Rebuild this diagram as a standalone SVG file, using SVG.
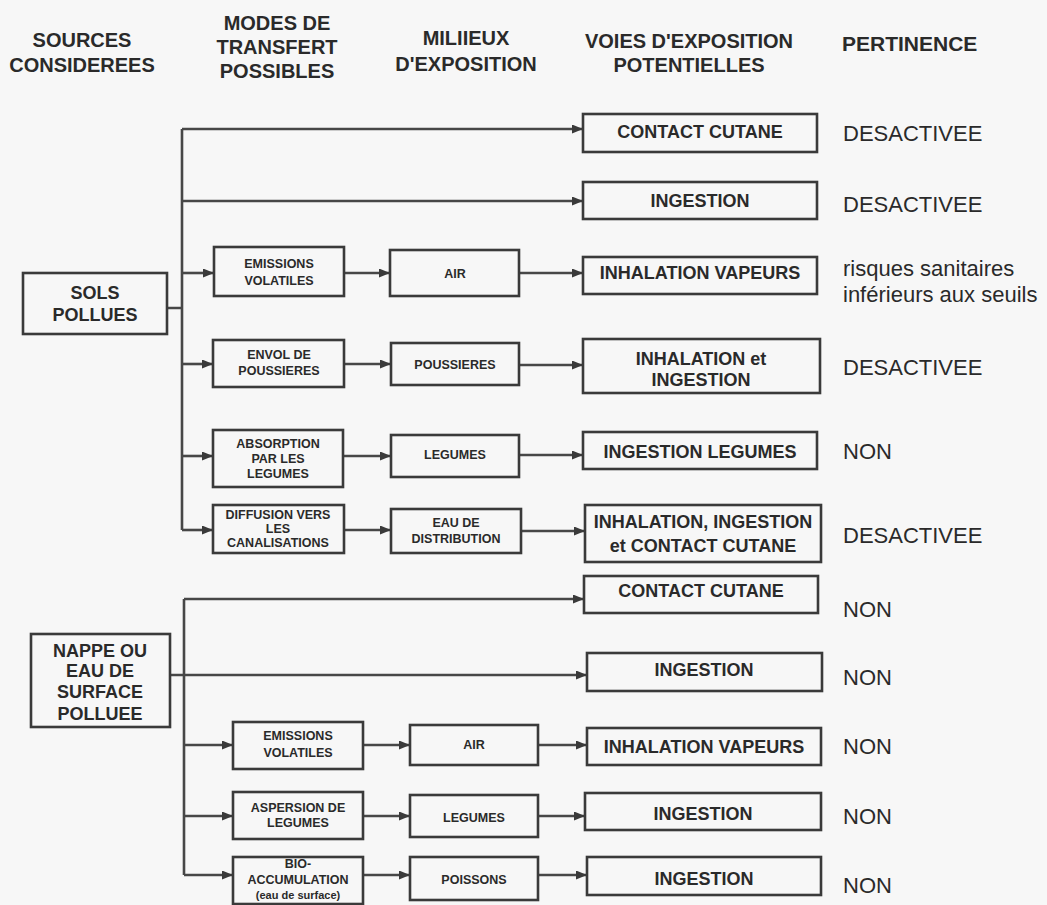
<svg xmlns="http://www.w3.org/2000/svg" width="1047" height="905" viewBox="0 0 1047 905">
<defs>
<style>
.bg{fill:#f7f7f7}
.box{fill:none;stroke:#3a3a3a;stroke-width:2.6}
.ln{fill:none;stroke:#474747;stroke-width:2.6}
.ar{marker-end:url(#ah)}
text{font-family:"Liberation Sans",Arial,sans-serif;fill:#2a2a2a}
.h{font-size:20px;font-weight:bold;text-anchor:middle}
.p{font-size:22px}
.v{font-size:18px;font-weight:bold;text-anchor:middle}
.s{font-size:12.5px;font-weight:bold;text-anchor:middle}
.t{font-size:11px;font-weight:bold;text-anchor:middle}
</style>
<marker id="ah" markerUnits="userSpaceOnUse" markerWidth="11" markerHeight="9" viewBox="0 0 11 9" refX="11" refY="4.5" orient="auto">
<path d="M0,0 L11,4.5 L0,9 z" fill="#3a3a3a"/>
</marker>
</defs>
<rect class="bg" x="0" y="0" width="1047" height="905"/>

<g id="headers">
<text class="h" x="82" y="47">SOURCES</text>
<text class="h" x="82" y="72">CONSIDEREES</text>
<text class="h" x="277" y="30">MODES DE</text>
<text class="h" x="277" y="54">TRANSFERT</text>
<text class="h" x="277" y="78">POSSIBLES</text>
<text class="h" x="466" y="45">MILIIEUX</text>
<text class="h" x="466" y="71">D'EXPOSITION</text>
<text class="h" x="689" y="48">VOIES D'EXPOSITION</text>
<text class="h" x="689" y="72">POTENTIELLES</text>
<text class="h" x="842" y="51" style="text-anchor:start;font-size:21px">PERTINENCE</text>
</g>

<g id="connectors">
<path class="ln" d="M182,129 V530 M167,308 H182"/>
<path class="ln ar" d="M182,129 H583"/>
<path class="ln ar" d="M182,201 H583"/>
<path class="ln ar" d="M182,273 H214"/>
<path class="ln ar" d="M182,364 H213"/>
<path class="ln ar" d="M182,456 H213"/>
<path class="ln ar" d="M182,530 H213"/>
<path class="ln ar" d="M344,273 H390"/>
<path class="ln ar" d="M344,364 H391"/>
<path class="ln ar" d="M343,456 H391"/>
<path class="ln ar" d="M344,530 H391"/>
<path class="ln ar" d="M519,273 H583"/>
<path class="ln ar" d="M519,365 H583"/>
<path class="ln ar" d="M519,455 H583"/>
<path class="ln ar" d="M521,531 H585"/>
<path class="ln" d="M184,599 V875"/>
<path class="ln ar" d="M184,599 H584"/>
<path class="ln ar" d="M170,675 H587"/>
<path class="ln ar" d="M184,745 H233"/>
<path class="ln ar" d="M184,816 H233"/>
<path class="ln ar" d="M184,875 H233"/>
<path class="ln ar" d="M363,745 H410"/>
<path class="ln ar" d="M363,816 H410"/>
<path class="ln ar" d="M363,875 H410"/>
<path class="ln ar" d="M538,745 H587"/>
<path class="ln ar" d="M538,816 H585"/>
<path class="ln ar" d="M538,875 H587"/>
</g>

<g id="sols">
<rect class="box" x="23" y="273" width="144" height="61"/>
<text class="v" x="95" y="299">SOLS</text>
<text class="v" x="95" y="321">POLLUES</text>
</g>
<g id="nappe">
<rect class="box" x="31" y="634" width="139" height="93"/>
<text class="v" x="100" y="657">NAPPE OU</text>
<text class="v" x="100" y="677">EAU DE</text>
<text class="v" x="100" y="698">SURFACE</text>
<text class="v" x="100" y="720">POLLUEE</text>
</g>

<g id="m-emissions-1">
<rect class="box" x="214" y="247" width="130" height="49"/>
<text class="s" x="279" y="268">EMISSIONS</text>
<text class="s" x="279" y="285">VOLATILES</text>
</g>
<g id="m-envol">
<rect class="box" x="213" y="340" width="131" height="47"/>
<text class="s" x="279" y="359">ENVOL DE</text>
<text class="s" x="279" y="375">POUSSIERES</text>
</g>
<g id="m-absorption">
<rect class="box" x="213" y="430" width="130" height="57"/>
<text class="s" x="278" y="448">ABSORPTION</text>
<text class="s" x="278" y="463">PAR LES</text>
<text class="s" x="278" y="478">LEGUMES</text>
</g>
<g id="m-diffusion">
<rect class="box" x="213" y="505" width="131" height="48"/>
<text class="s" x="278" y="519">DIFFUSION VERS</text>
<text class="s" x="278" y="533">LES</text>
<text class="s" x="278" y="547">CANALISATIONS</text>
</g>

<g id="e-air-1">
<rect class="box" x="390" y="250" width="129" height="46"/>
<text class="s" x="455" y="278">AIR</text>
</g>
<g id="e-poussieres">
<rect class="box" x="391" y="343" width="128" height="42"/>
<text class="s" x="455" y="369">POUSSIERES</text>
</g>
<g id="e-legumes-1">
<rect class="box" x="391" y="435" width="128" height="42"/>
<text class="s" x="455" y="459">LEGUMES</text>
</g>
<g id="e-eau">
<rect class="box" x="391" y="509" width="130" height="44"/>
<text class="s" x="456" y="527">EAU DE</text>
<text class="s" x="456" y="543">DISTRIBUTION</text>
</g>

<g id="v-contact-1">
<rect class="box" x="583" y="114" width="234" height="38"/>
<text class="v" x="700" y="138">CONTACT CUTANE</text>
</g>
<g id="v-ingestion-1">
<rect class="box" x="583" y="182" width="234" height="37"/>
<text class="v" x="700" y="207">INGESTION</text>
</g>
<g id="v-inhalation-1">
<rect class="box" x="583" y="257" width="234" height="37"/>
<text class="v" x="700" y="279">INHALATION VAPEURS</text>
</g>
<g id="v-inh-ing">
<rect class="box" x="583" y="339" width="237" height="54"/>
<text class="v" x="701" y="365">INHALATION et</text>
<text class="v" x="701" y="386">INGESTION</text>
</g>
<g id="v-ing-legumes">
<rect class="box" x="583" y="432" width="234" height="37"/>
<text class="v" x="700" y="458">INGESTION LEGUMES</text>
</g>
<g id="v-inh-ing-cont">
<rect class="box" x="585" y="505" width="236" height="57"/>
<text class="v" x="703" y="528">INHALATION, INGESTION</text>
<text class="v" x="703" y="552">et CONTACT CUTANE</text>
</g>

<g id="v-contact-2">
<rect class="box" x="584" y="576" width="234" height="37"/>
<text class="v" x="701" y="597">CONTACT CUTANE</text>
</g>
<g id="v-ingestion-2">
<rect class="box" x="587" y="653" width="235" height="38"/>
<text class="v" x="704" y="676">INGESTION</text>
</g>

<g id="m-emissions-2">
<rect class="box" x="233" y="722" width="130" height="47"/>
<text class="s" x="298" y="740">EMISSIONS</text>
<text class="s" x="298" y="757">VOLATILES</text>
</g>
<g id="m-aspersion">
<rect class="box" x="233" y="792" width="130" height="47"/>
<text class="s" x="298" y="812">ASPERSION DE</text>
<text class="s" x="298" y="827">LEGUMES</text>
</g>
<g id="m-bio">
<rect class="box" x="233" y="857" width="130" height="47"/>
<text class="s" x="298" y="868">BIO-</text>
<text class="s" x="298" y="884">ACCUMULATION</text>
<text class="t" x="298" y="899">(eau de surface)</text>
</g>

<g id="e-air-2">
<rect class="box" x="410" y="725" width="128" height="40"/>
<text class="s" x="474" y="749">AIR</text>
</g>
<g id="e-legumes-2">
<rect class="box" x="410" y="795" width="128" height="42"/>
<text class="s" x="474" y="822">LEGUMES</text>
</g>
<g id="e-poissons">
<rect class="box" x="410" y="857" width="128" height="43"/>
<text class="s" x="474" y="884">POISSONS</text>
</g>

<g id="v-inhalation-2">
<rect class="box" x="587" y="728" width="234" height="37"/>
<text class="v" x="704" y="753">INHALATION VAPEURS</text>
</g>
<g id="v-ingestion-3">
<rect class="box" x="585" y="793" width="236" height="37"/>
<text class="v" x="703" y="820">INGESTION</text>
</g>
<g id="v-ingestion-4">
<rect class="box" x="587" y="857" width="234" height="38"/>
<text class="v" x="704" y="885">INGESTION</text>
</g>

<g id="pertinence">
<text class="p" x="843" y="141">DESACTIVEE</text>
<text class="p" x="843" y="212">DESACTIVEE</text>
<text class="p" x="843" y="276">risques sanitaires</text>
<text class="p" x="843" y="302">inférieurs aux seuils</text>
<text class="p" x="843" y="375">DESACTIVEE</text>
<text class="p" x="843" y="459">NON</text>
<text class="p" x="843" y="543">DESACTIVEE</text>
<text class="p" x="843" y="617">NON</text>
<text class="p" x="843" y="685">NON</text>
<text class="p" x="843" y="754">NON</text>
<text class="p" x="843" y="824">NON</text>
<text class="p" x="843" y="893">NON</text>
</g>
</svg>
